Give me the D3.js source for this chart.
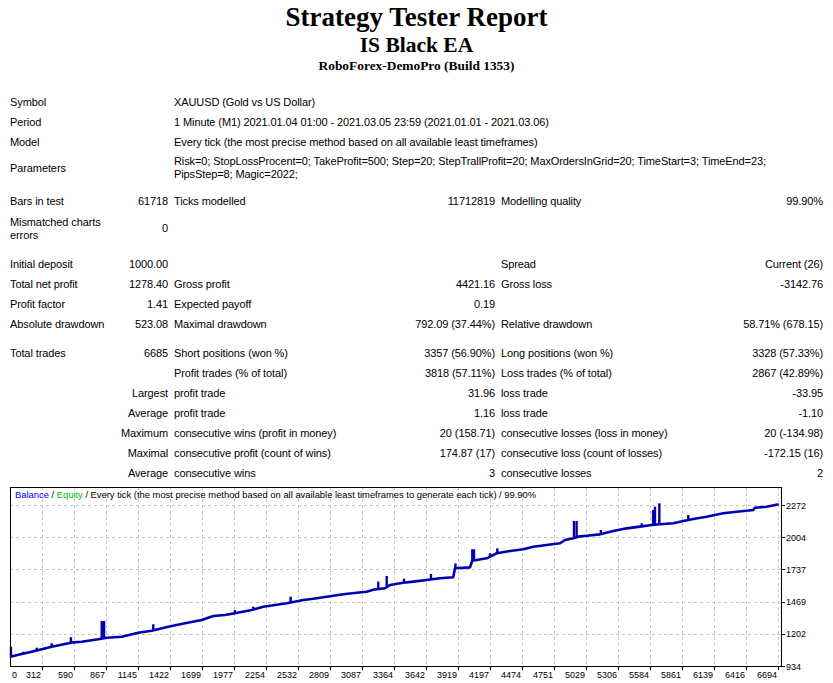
<!DOCTYPE html>
<html>
<head>
<meta charset="utf-8">
<script src="https://cdn.jsdelivr.net/npm/d3@7"></script>
<style>
  body { margin: 0; background: #fff; }
  svg text { font-family: "Liberation Sans", Arial, sans-serif; }
  .t { font-size: 11px; fill: #000; letter-spacing: -0.1px; }
  .h { font-family: "Liberation Serif", "Times New Roman", serif; font-weight: bold; fill: #000; }
  .ax { font-size: 9px; fill: #000; }
</style>
</head>
<body>
<svg id="page" width="833" height="683"></svg>
<script>
// report header
const titles = ["Strategy Tester Report", "IS Black EA", "RoboForex-DemoPro (Build 1353)"];

// table rows: [label, value, label, value, label, value]
const infoRows = [
    ["Symbol", "", "XAUUSD (Gold vs US Dollar)"],
    ["Period", "", "1 Minute (M1) 2021.01.04 01:00 - 2021.03.05 23:59 (2021.01.01 - 2021.03.06)"],
    ["Model", "", "Every tick (the most precise method based on all available least timeframes)"]
];
const paramLines = [
    "Risk=0; StopLossProcent=0; TakeProfit=500; Step=20; StepTrallProfit=20; MaxOrdersInGrid=20; TimeStart=3; TimeEnd=23;",
    "PipsStep=8; Magic=2022;"
];
const statRows = [
    ["Bars in test", "61718", "Ticks modelled", "11712819", "Modelling quality", "99.90%"],
    ["Initial deposit", "1000.00", "", "", "Spread", "Current (26)"],
    ["Total net profit", "1278.40", "Gross profit", "4421.16", "Gross loss", "-3142.76"],
    ["Profit factor", "1.41", "Expected payoff", "0.19", "", ""],
    ["Absolute drawdown", "523.08", "Maximal drawdown", "792.09 (37.44%)", "Relative drawdown", "58.71% (678.15)"],
    ["Total trades", "6685", "Short positions (won %)", "3357 (56.90%)", "Long positions (won %)", "3328 (57.33%)"],
    ["", "", "Profit trades (% of total)", "3818 (57.11%)", "Loss trades (% of total)", "2867 (42.89%)"],
    ["", "Largest", "profit trade", "31.96", "loss trade", "-33.95"],
    ["", "Average", "profit trade", "1.16", "loss trade", "-1.10"],
    ["", "Maximum", "consecutive wins (profit in money)", "20 (158.71)", "consecutive losses (loss in money)", "20 (-134.98)"],
    ["", "Maximal", "consecutive profit (count of wins)", "174.87 (17)", "consecutive loss (count of losses)", "-172.15 (16)"],
    ["", "Average", "consecutive wins", "3", "consecutive losses", "2"]
];
const statBaselines = [205, 268, 288, 308, 328, 357, 377, 397, 417, 437, 457, 477];

// chart data
const xTicks = [0, 312, 590, 867, 1145, 1422, 1699, 1977, 2254, 2532, 2809, 3087, 3364, 3642,
                3919, 4197, 4474, 4751, 5029, 5306, 5584, 5861, 6139, 6416, 6694];
const yTicks = [934, 1202, 1469, 1737, 2004, 2272];

const tradeNo = [35, 136, 223, 309, 396, 511, 563, 656, 800, 873, 1003, 1147, 1263, 1407, 1552,
                 1697, 1797, 1899, 1985, 2130, 2231, 2376, 2434, 2491, 2578, 2665, 2781, 2925,
                 3041, 3127, 3199, 3286, 3329, 3445, 3532, 3648, 3763, 3878, 3893, 4023, 4043,
                 4168, 4255, 4370, 4486, 4572, 4688, 4804, 4847, 4919, 4962, 5035, 5150, 5266,
                 5382, 5497, 5599, 5671, 5786, 5873, 5959, 6075, 6219, 6336, 6480, 6494, 6596, 6700];
const balance = [1011, 1034, 1053, 1073, 1094, 1117, 1128, 1136, 1156, 1169, 1177, 1211, 1227, 1261,
                 1289, 1316, 1350, 1358, 1372, 1399, 1427, 1447, 1455, 1466, 1482, 1493, 1510, 1530,
                 1543, 1551, 1571, 1580, 1607, 1626, 1635, 1649, 1663, 1671, 1746, 1754, 1809, 1829,
                 1871, 1890, 1904, 1925, 1940, 1954, 1981, 1995, 2009, 2017, 2028, 2056, 2078, 2092,
                 2106, 2112, 2120, 2139, 2156, 2175, 2203, 2216, 2230, 2249, 2258, 2278];

// short upward excursions of the curve
const spikeTrade = [43, 150, 266, 396, 563, 830, 850, 1277, 1985, 2144, 2468, 3228, 3301, 3451, 3685,
                    3897, 4043, 4058, 4197, 4260, 4925, 4948, 5158, 5512, 5611, 5627, 5665, 5916];
const spikePeak = [1094, 1053, 1086, 1123, 1173, 1308, 1308, 1281, 1399, 1427, 1510, 1635, 1682, 1660,
                   1699, 1787, 1904, 1904, 1871, 1912, 2139, 2139, 2064, 2120, 2230, 2258, 2286, 2189];

const svg = d3.select("#page");

// header
svg.append("text").attr("class", "h").attr("x", 416.5).attr("y", 26)
    .attr("text-anchor", "middle").style("font-size", "27px").text(titles[0]);
svg.append("text").attr("class", "h").attr("x", 416.5).attr("y", 52)
    .attr("text-anchor", "middle").style("font-size", "21.5px").text(titles[1]);
svg.append("text").attr("class", "h").attr("x", 416.5).attr("y", 70)
    .attr("text-anchor", "middle").style("font-size", "13.4px").text(titles[2]);

// column positions
const colX = [10, 168, 174, 495, 501, 823];
const colAnchor = ["start", "end", "start", "end", "start", "end"];

function addRow(row, yy) {
    row.forEach(function(txt, i) {
        if (!txt) return;
        svg.append("text").attr("class", "t")
            .attr("x", colX[i]).attr("y", yy)
            .attr("text-anchor", colAnchor[i])
            .text(txt);
    });
}

infoRows.forEach(function(r, i) { addRow(r, 106 + i * 20); });

addRow(["Parameters"], 172);
paramLines.forEach(function(l, i) {
    svg.append("text").attr("class", "t").attr("x", 174).attr("y", 165 + i * 12.5).text(l);
});

statRows.forEach(function(r, i) { addRow(r, statBaselines[i]); });

// mismatched charts errors (two-line label)
svg.append("text").attr("class", "t").attr("x", 10).attr("y", 226).text("Mismatched charts");
svg.append("text").attr("class", "t").attr("x", 10).attr("y", 238.5).text("errors");
svg.append("text").attr("class", "t").attr("x", 168).attr("y", 232).attr("text-anchor", "end").text("0");

// ---------- chart ----------
const plotL = 10, plotR = 781, plotT = 487, plotB = 666;

let x = d3.scaleLinear().domain([34.5, 6720]).range([plotL, plotR]);
let y = d3.scaleLinear().domain([934, 2421.6]).range([plotB, plotT]);

let chart = svg.append("g");

// gridlines
chart.append("g").selectAll("line")
    .data(xTicks.filter(function(d) { return x(d) > plotL + 1 && x(d) < plotR - 1; }))
    .enter().append("line")
    .attr("x1", function(d) { return Math.round(x(d)) + 0.5; })
    .attr("x2", function(d) { return Math.round(x(d)) + 0.5; })
    .attr("y1", plotT).attr("y2", plotB)
    .attr("stroke", "#c4c4c4").attr("stroke-dasharray", "3,3");

chart.append("g").selectAll("line")
    .data(yTicks.filter(function(d) { return y(d) > plotT + 1 && y(d) < plotB - 1; }))
    .enter().append("line")
    .attr("x1", plotL).attr("x2", plotR)
    .attr("y1", function(d) { return Math.round(y(d)) + 0.5; })
    .attr("y2", function(d) { return Math.round(y(d)) + 0.5; })
    .attr("stroke", "#c4c4c4").attr("stroke-dasharray", "3,3");

// balance curve
let balanceData = tradeNo.map(function(t, i) { return [t, balance[i]]; });
let line = d3.line()
    .x(function(d) { return x(d[0]); })
    .y(function(d) { return y(d[1]); });

chart.append("path")
    .datum(balanceData)
    .attr("d", line)
    .attr("fill", "none")
    .attr("stroke", "#0000b0")
    .attr("stroke-width", 2.6)
    .attr("stroke-linejoin", "round");

// spikes
let bis = d3.bisector(function(d) { return d; }).right;
function baseAt(t) {
    let i = Math.max(0, bis(tradeNo, t) - 1);
    if (i >= tradeNo.length - 1) return balance[balance.length - 1];
    let f = (t - tradeNo[i]) / (tradeNo[i + 1] - tradeNo[i]);
    return balance[i] + f * (balance[i + 1] - balance[i]);
}
chart.append("g").selectAll("line")
    .data(spikeTrade)
    .enter().append("line")
    .attr("x1", function(d) { return x(d); })
    .attr("x2", function(d) { return x(d); })
    .attr("y1", function(d) { return y(baseAt(d)); })
    .attr("y2", function(d, i) { return y(spikePeak[i]); })
    .attr("stroke", "#0000b0")
    .attr("stroke-width", 2.4);

// frame
chart.append("rect")
    .attr("x", plotL + 0.5).attr("y", plotT + 0.5)
    .attr("width", plotR - plotL).attr("height", plotB - plotT)
    .attr("fill", "none").attr("stroke", "#000");

// y axis (right)
chart.append("g").selectAll("line")
    .data(yTicks).enter().append("line")
    .attr("x1", plotR + 0.5).attr("x2", plotR + 4)
    .attr("y1", function(d) { return Math.round(y(d)) + 0.5; })
    .attr("y2", function(d) { return Math.round(y(d)) + 0.5; })
    .attr("stroke", "#000");
chart.append("g").selectAll("text")
    .data(yTicks).enter().append("text")
    .attr("class", "ax")
    .attr("x", plotR + 5)
    .attr("y", function(d) { return y(d) + 3.5; })
    .text(function(d) { return d; });

// x axis
chart.append("g").selectAll("line")
    .data(xTicks.filter(function(d) { return x(d) > plotL; })).enter().append("line")
    .attr("x1", function(d) { return Math.round(x(d)) + 0.5; })
    .attr("x2", function(d) { return Math.round(x(d)) + 0.5; })
    .attr("y1", plotB + 0.5).attr("y2", plotB + 4)
    .attr("stroke", "#000");
chart.append("g").selectAll("text")
    .data(xTicks).enter().append("text")
    .attr("class", "ax")
    .attr("x", function(d) { return x(d) < plotL ? plotL + 2 : x(d) - 1; })
    .attr("y", 678)
    .attr("text-anchor", function(d) { return x(d) < plotL ? "start" : "end"; })
    .text(function(d) { return d; });

// chart caption
let cap = chart.append("text").attr("class", "ax").style("font-size", "9.4px")
    .attr("x", 15).attr("y", 498);
cap.append("tspan").attr("fill", "#0000ff").text("Balance");
cap.append("tspan").text(" / ");
cap.append("tspan").attr("fill", "#00c000").text("Equity");
cap.append("tspan").text(" / Every tick (the most precise method based on all available least timeframes to generate each tick) / 99.90%");
</script>
</body>
</html>
